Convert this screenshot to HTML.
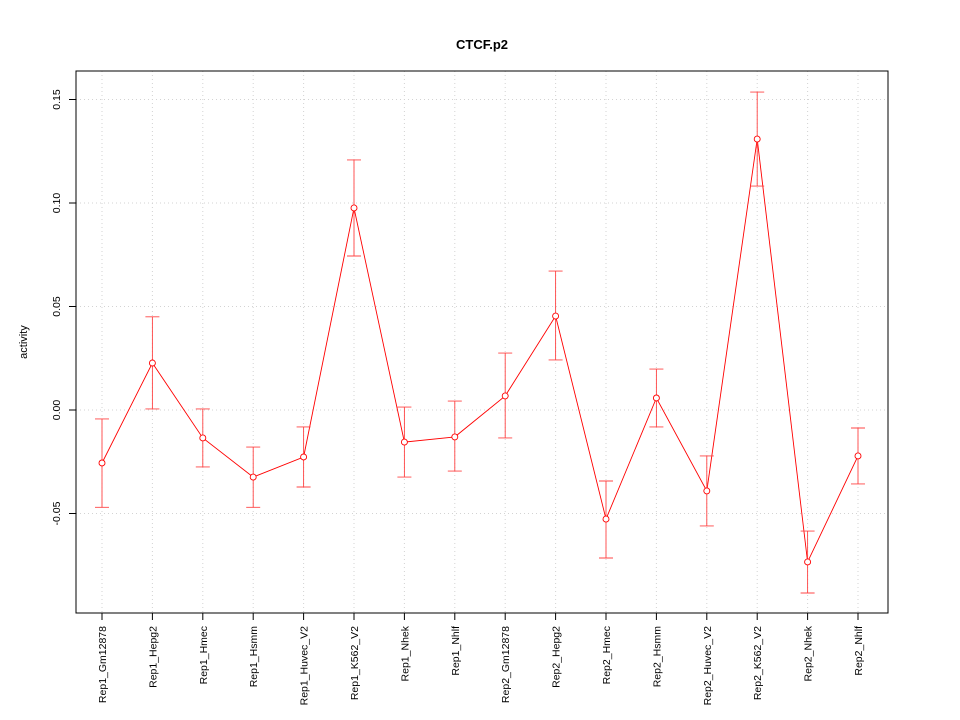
<!DOCTYPE html>
<html><head><meta charset="utf-8"><style>body{margin:0;background:#fff}svg{display:block}</style></head>
<body>
<svg id="chart" width="960" height="720" xmlns="http://www.w3.org/2000/svg" font-family="'Liberation Sans', sans-serif">
<rect width="960" height="720" fill="#fff"/>
<text x="482" y="49" font-size="13" font-weight="bold" text-anchor="middle">CTCF.p2</text>
<text x="0" y="0" font-size="11" text-anchor="middle" transform="translate(27,342) rotate(-90)">activity</text>
<g id="grid"></g><g id="axes"></g><g id="marks"></g>
<rect x="76" y="71" width="812" height="542" fill="none" stroke="#000"/>
</svg>
<script>
const categories=["Rep1_Gm12878","Rep1_Hepg2","Rep1_Hmec","Rep1_Hsmm","Rep1_Huvec_V2","Rep1_K562_V2","Rep1_Nhek","Rep1_Nhlf","Rep2_Gm12878","Rep2_Hepg2","Rep2_Hmec","Rep2_Hsmm","Rep2_Huvec_V2","Rep2_K562_V2","Rep2_Nhek","Rep2_Nhlf"];
const values=[-0.0256,0.0227,-0.0135,-0.0324,-0.0227,0.0976,-0.0155,-0.013,0.0068,0.0454,-0.0527,0.0058,-0.0391,0.1309,-0.0734,-0.0222];
const upper=[-0.0043,0.045,0.0005,-0.0179,-0.0082,0.1208,0.0014,0.0043,0.0275,0.0671,-0.0343,0.0198,-0.0222,0.1536,-0.0585,-0.0087];
const lower=[-0.047,0.0005,-0.0275,-0.047,-0.0372,0.0744,-0.0324,-0.0295,-0.0135,0.0242,-0.0715,-0.0082,-0.056,0.1082,-0.0884,-0.0357];
const yTicks=[-0.05,0.00,0.05,0.10,0.15];
const yTickLabels=["-0.05","0.00","0.05","0.10","0.15"];
const NS="http://www.w3.org/2000/svg";
const x=i=>102+i*(858-102)/(categories.length-1);
const y=v=>410-v*2070;
function mk(p,tag,at){const e=document.createElementNS(NS,tag);for(const k in at)e.setAttribute(k,at[k]);p.appendChild(e);return e;}
const grid=document.getElementById('grid'),axes=document.getElementById('axes'),marks=document.getElementById('marks');
categories.forEach((c,i)=>{
 const g=mk(grid,'line',{x1:x(i),x2:x(i),y1:71,y2:613,stroke:'#d3d3d3','stroke-dasharray':'1,3'});
 
 
 const t=mk(axes,'line',{x1:x(i),x2:x(i),y1:613,y2:620,stroke:'#000'});
 
 
 const l=mk(axes,'text',{x:0,y:0,'font-size':10.5,'text-anchor':'end',transform:`translate(${x(i)+4},626) rotate(-90)`});
 l.textContent=c;
 
 
});
yTicks.forEach((v,i)=>{
 const g=mk(grid,'line',{x1:76,x2:888,y1:y(v),y2:y(v),stroke:'#d3d3d3','stroke-dasharray':'1,3'});
 
 
 const t=mk(axes,'line',{x1:69,x2:76,y1:y(v),y2:y(v),stroke:'#000'});
 
 
 const l=mk(axes,'text',{x:0,y:0,'font-size':10.5,'text-anchor':'middle',transform:`translate(60,${y(v)}) rotate(-90)`});
 l.textContent=yTickLabels[i];
 
 
});
const pl=mk(marks,'polyline',{points:values.map((v,i)=>x(i)+','+y(v)).join(' '),fill:'none',stroke:'#f00','stroke-width':0.9});


values.forEach((v,i)=>{
 const e=mk(marks,'path',{d:`M${x(i)},${y(upper[i])}V${y(lower[i])}M${x(i)-7},${y(upper[i])}H${x(i)+7}M${x(i)-7},${y(lower[i])}H${x(i)+7}`,stroke:'#f44','stroke-width':0.9,fill:'none'});
 
 
 const p=mk(marks,'circle',{cx:x(i),cy:y(v),r:3,fill:'#fff',stroke:'#f00','stroke-width':0.9});
 
 
});
</script>
</body></html>
